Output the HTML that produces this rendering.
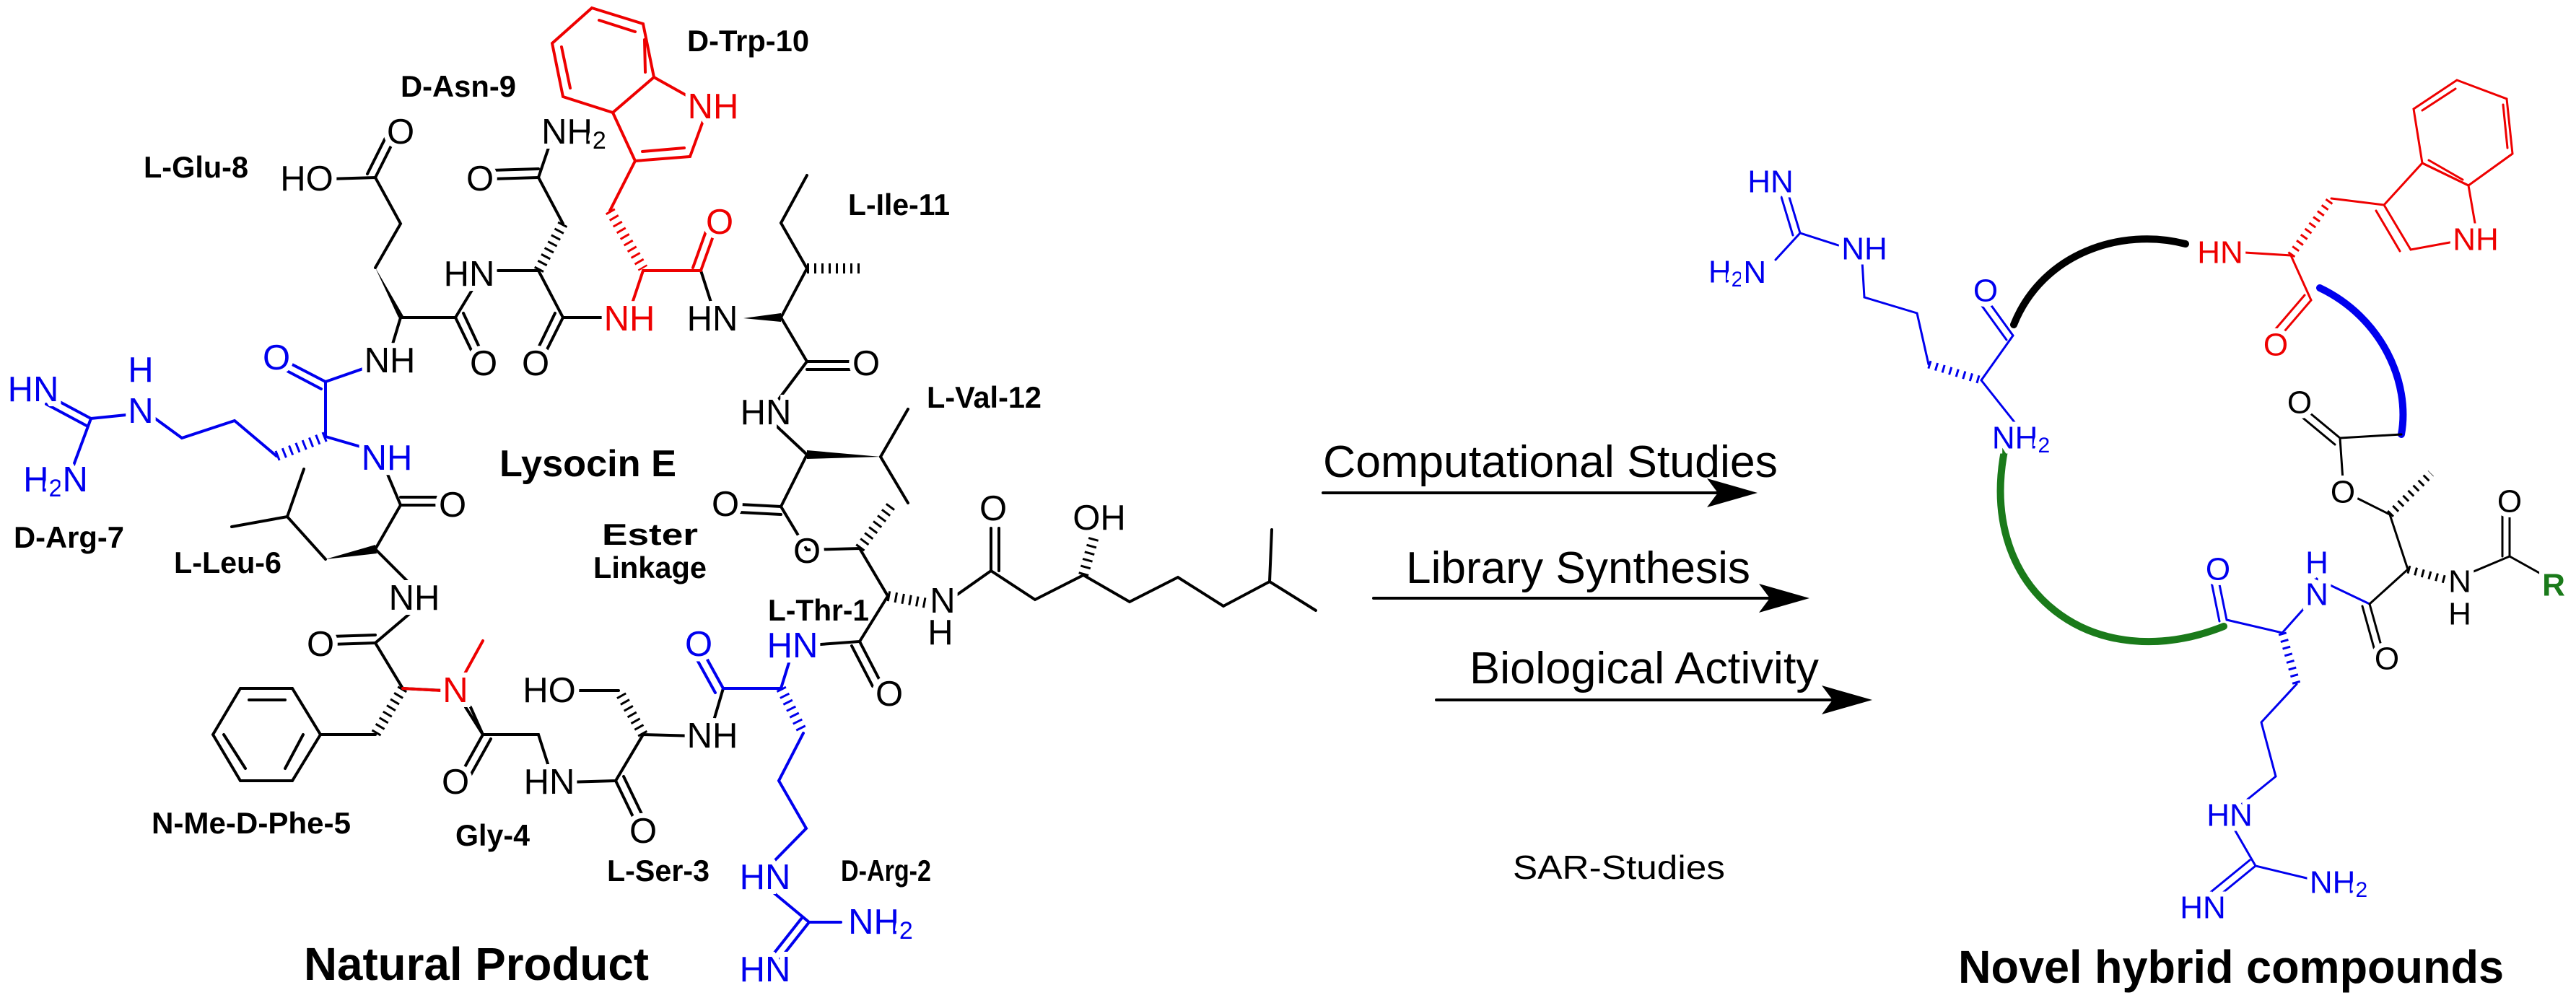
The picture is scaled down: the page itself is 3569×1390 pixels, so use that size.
<!DOCTYPE html>
<html><head><meta charset="utf-8"><style>
html,body{margin:0;padding:0;background:#fff}
svg{display:block}
.b{stroke:#000}.u{stroke:#0000ee}.r{stroke:#ee0000}
line,polyline{stroke-width:4;fill:none;stroke-linecap:round}
path{fill:none;stroke-linecap:round}
.h{stroke-dasharray:3 7;stroke-width:14;stroke-linecap:butt}
.R line,.R polyline{stroke-width:3}
text.a{font-family:"Liberation Sans",sans-serif;font-size:49px;text-anchor:middle;dominant-baseline:central;paint-order:stroke;stroke:#fff;stroke-width:14px}
text.s{font-size:44px}
text.l{font-family:"Liberation Sans",sans-serif;font-weight:bold;font-size:42px}
</style></head><body>
<svg width="3569" height="1390" viewBox="0 0 3569 1390" xmlns="http://www.w3.org/2000/svg">
<g class="b">
<polyline points="780,310 746,246 765,190"/>
<line x1="746" y1="246" x2="680" y2="248"/><line x1="746" y1="234" x2="680" y2="236"/>
<line class="h" x1="780" y1="310" x2="746" y2="375"/>
<polyline points="690,375 746,375 780,440 834,440"/>
<line x1="780" y1="440" x2="750" y2="500"/><line x1="769" y1="434" x2="740" y2="494"/>
<polyline points="654,402 631,440 555,440"/>
<line x1="631" y1="440" x2="660" y2="500"/><line x1="642" y1="434" x2="670" y2="494"/>
<polyline points="520,371 555,310 520,246 455,248"/>
<line x1="520" y1="246" x2="548" y2="190"/><line x1="509" y1="241" x2="537" y2="185"/>
<line x1="555" y1="440" x2="540" y2="490"/>
<line x1="971" y1="375" x2="987" y2="425"/>
<polyline points="1082,440 1118,372 1082,309 1118,243"/>
<line class="h" x1="1118" y1="372" x2="1191" y2="372"/>
<polyline points="1082,440 1118,501 1070,565"/>
<line x1="1118" y1="501" x2="1180" y2="501"/><line x1="1118" y1="512" x2="1180" y2="512"/>
<polyline points="1070,585 1118,630 1082,702 1118,762 1191,760 1230,826 1191,889 1110,895"/>
<line x1="1082" y1="702" x2="1025" y2="699"/><line x1="1082" y1="713" x2="1025" y2="710"/>
<polyline points="1220,633 1258,567"/><polyline points="1220,633 1258,697"/>
<line class="h" x1="1191" y1="760" x2="1236" y2="699"/>
<line x1="1191" y1="889" x2="1220" y2="945"/><line x1="1180" y1="895" x2="1209" y2="951"/>
<line class="h" x1="1230" y1="826" x2="1290" y2="837"/>
<polyline points="1322,827 1373,791 1434,831 1501,797 1565,834 1632,800 1695,840 1759,806 1823,846"/>
<line x1="1759" y1="806" x2="1762" y2="734"/>
<line x1="1373" y1="791" x2="1373" y2="732"/><line x1="1384" y1="791" x2="1384" y2="732"/>
<line class="h" x1="1501" y1="797" x2="1517" y2="740"/>
<polyline points="536,655 555,700 520,761"/>
<line x1="555" y1="700" x2="615" y2="700"/><line x1="555" y1="689" x2="615" y2="689"/>
<polyline points="451,775 398,716 321,730"/><line x1="398" y1="716" x2="421" y2="650"/>
<polyline points="520,761 574,815"/>
<polyline points="574,845 520,891 558,954 615,957"/>
<line x1="520" y1="891" x2="458" y2="893"/><line x1="520" y1="880" x2="458" y2="882"/>
<line class="h" x1="558" y1="954" x2="520" y2="1018"/>
<line x1="520" y1="1018" x2="444" y2="1018"/>
<polygon points="333,954 405,954 444,1018 405,1082 333,1082 295,1018" style="fill:none;stroke-width:4"/>
<line x1="345" y1="970" x2="395" y2="970"/><line x1="420" y1="1018" x2="395" y2="1065"/><line x1="310" y1="1018" x2="340" y2="1065"/>
<polyline points="645,980 669,1018 746,1018 761,1065"/>
<line x1="669" y1="1018" x2="640" y2="1070"/><line x1="680" y1="1024" x2="651" y2="1076"/>
<polyline points="785,1084 853,1082 891,1018 965,1020"/>
<line x1="853" y1="1082" x2="880" y2="1138"/><line x1="864" y1="1076" x2="891" y2="1132"/>
<line class="h" x1="891" y1="1018" x2="857" y2="957"/><line x1="857" y1="957" x2="790" y2="957"/>
<line x1="987" y1="1005" x2="1002" y2="954"/>
</g>
<polygon points="520,371 552,440 560,440" fill="#000"/>
<polygon points="1030,441 1082,434 1082,446" fill="#000"/>
<polygon points="1118,624 1118,636 1220,633" fill="#000"/>
<polygon points="451,775 520,755 522,767" fill="#000"/>
<g class="r">
<polygon points="820,11 891,33 906,107 849,156 780,134 765,60" style="fill:none;stroke-width:4"/>
<line x1="830" y1="28" x2="880" y2="44"/><line x1="893" y1="55" x2="894" y2="100"/><line x1="778" y1="65" x2="790" y2="122"/>
<polyline points="906,107 965,140"/><polyline points="975,165 956,217 880,223 849,156"/>
<line x1="948" y1="205" x2="890" y2="210"/>
<line x1="880" y1="223" x2="845" y2="292"/>
<line class="h" x1="845" y1="292" x2="891" y2="372"/>
<polyline points="876,420 891,375 971,375"/>
<line x1="971" y1="375" x2="990" y2="322"/><line x1="960" y1="371" x2="979" y2="318"/>
<polyline points="631,957 669,888"/>
</g>
<line x1="558" y1="954" x2="612" y2="957" stroke="#e00" stroke-width="4"/>
<line x1="652" y1="980" x2="669" y2="1018" stroke="#000" stroke-width="4"/>
<g class="u">
<polyline points="520,505 451,529 451,605"/>
<line x1="451" y1="529" x2="395" y2="500"/><line x1="445" y1="539" x2="390" y2="510"/>
<line class="h" x1="451" y1="605" x2="383" y2="632"/>
<polyline points="383,632 325,583 252,607 215,580"/>
<polyline points="175,575 126,580 100,650"/>
<line x1="126" y1="580" x2="70" y2="550"/><line x1="120" y1="590" x2="64" y2="560"/>
<line x1="451" y1="605" x2="520" y2="625"/>
<line x1="1002" y1="954" x2="975" y2="905"/><line x1="991" y1="960" x2="964" y2="911"/>
<polyline points="1002,954 1082,954 1095,912"/>
<line class="h" x1="1082" y1="954" x2="1113" y2="1016"/>
<polyline points="1113,1016 1079,1082 1117,1148 1068,1198"/>
<polyline points="1068,1234 1121,1278 1165,1278"/>
<line x1="1121" y1="1278" x2="1080" y2="1330"/><line x1="1111" y1="1272" x2="1070" y2="1324"/>
</g>
<g>
<text class="a" x="988" y="148" fill="#e00">NH</text>
<text class="a" x="997" y="308" fill="#e00">O</text>
<text class="a" x="872" y="442" fill="#e00">NH</text>
<text class="a" x="987" y="442">HN</text>
<text class="a" x="665" y="248">O</text>
<text class="a" x="795" y="183">NH<tspan font-size="34" dy="12">2</tspan></text>
<text class="a" x="650" y="380">HN</text>
<text class="a" x="670" y="504">O</text>
<text class="a" x="742" y="504">O</text>
<text class="a" x="425" y="248">HO</text>
<text class="a" x="555" y="183">O</text>
<text class="a" x="540" y="500">NH</text>
<text class="a" x="1200" y="504">O</text>
<text class="a" x="1061" y="572">HN</text>
<text class="a" x="1005" y="699">O</text>
<text class="a" x="1118" y="764">O</text>
<text class="a" x="1306" y="833">N</text>
<text class="a" x="1303" y="877">H</text>
<text class="a" x="1376" y="705">O</text>
<text class="a" x="1523" y="718">OH</text>
<text class="a" x="1232" y="962">O</text>
<text class="a" x="627" y="700">O</text>
<text class="a" x="574" y="829">NH</text>
<text class="a" x="444" y="893">O</text>
<text class="a" x="631" y="957" fill="#e00">N</text>
<text class="a" x="631" y="1084">O</text>
<text class="a" x="761" y="1084">HN</text>
<text class="a" x="891" y="1152">O</text>
<text class="a" x="761" y="957">HO</text>
<text class="a" x="987" y="1020">NH</text>
<g fill="#0000ee">
<text class="a" x="383" y="496">O</text>
<text class="a" x="195" y="570">N</text>
<text class="a" x="195" y="513">H</text>
<text class="a" x="46" y="540">HN</text>
<text class="a" x="77" y="665">H<tspan font-size="34" dy="12">2</tspan><tspan dy="-12">N</tspan></text>
<text class="a" x="536" y="635">NH</text>
<text class="a" x="968" y="893">O</text>
<text class="a" x="1098" y="895">HN</text>
<text class="a" x="1060" y="1216">HN</text>
<text class="a" x="1220" y="1278">NH<tspan font-size="34" dy="12">2</tspan></text>
<text class="a" x="1060" y="1344">HN</text>
</g>
</g>
<g>
<text class="l" x="952" y="71" textLength="169" lengthAdjust="spacingAndGlyphs">D-Trp-10</text>
<text class="l" x="555" y="134" textLength="160" lengthAdjust="spacingAndGlyphs">D-Asn-9</text>
<text class="l" x="199" y="246" textLength="145" lengthAdjust="spacingAndGlyphs">L-Glu-8</text>
<text class="l" x="1175" y="298" textLength="141" lengthAdjust="spacingAndGlyphs">L-Ile-11</text>
<text class="l" x="1284" y="565" textLength="159" lengthAdjust="spacingAndGlyphs">L-Val-12</text>
<text class="l" x="692" y="660" style="font-size:52px" textLength="245" lengthAdjust="spacingAndGlyphs">Lysocin E</text>
<text class="l" x="19" y="759" textLength="153" lengthAdjust="spacingAndGlyphs">D-Arg-7</text>
<text class="l" x="241" y="794" textLength="149" lengthAdjust="spacingAndGlyphs">L-Leu-6</text>
<text class="l" x="834" y="755" textLength="133" lengthAdjust="spacingAndGlyphs">Ester</text>
<text class="l" x="822" y="801" textLength="157" lengthAdjust="spacingAndGlyphs">Linkage</text>
<text class="l" x="1064" y="860" textLength="140" lengthAdjust="spacingAndGlyphs">L-Thr-1</text>
<text class="l" x="210" y="1155" textLength="276" lengthAdjust="spacingAndGlyphs">N-Me-D-Phe-5</text>
<text class="l" x="631" y="1172" textLength="103" lengthAdjust="spacingAndGlyphs">Gly-4</text>
<text class="l" x="841" y="1221" textLength="142" lengthAdjust="spacingAndGlyphs">L-Ser-3</text>
<text class="l" x="1165" y="1221" textLength="125" lengthAdjust="spacingAndGlyphs">D-Arg-2</text>
<text class="l" x="421" y="1358" style="font-size:64px" textLength="478" lengthAdjust="spacingAndGlyphs">Natural Product</text>
<text class="l" x="2713" y="1362" style="font-size:64px" textLength="756" lengthAdjust="spacingAndGlyphs">Novel hybrid compounds</text>
</g>
<g font-family="Liberation Sans, sans-serif" fill="#000">
<text x="1833" y="661" font-size="62" textLength="630" lengthAdjust="spacingAndGlyphs">Computational Studies</text>
<line x1="1833" y1="683" x2="2400" y2="683" stroke="#000" stroke-width="3"/>
<polygon points="2435,683 2365,663 2380,683 2365,703"/>
<text x="1948" y="808" font-size="62" textLength="477" lengthAdjust="spacingAndGlyphs">Library Synthesis</text>
<line x1="1903" y1="829" x2="2470" y2="829" stroke="#000" stroke-width="3"/>
<polygon points="2507,829 2437,809 2452,829 2437,849"/>
<text x="2036" y="947" font-size="62" textLength="484" lengthAdjust="spacingAndGlyphs">Biological Activity</text>
<line x1="1990" y1="970" x2="2560" y2="970" stroke="#000" stroke-width="3"/>
<polygon points="2594,970 2524,950 2539,970 2524,990"/>
<text x="2096" y="1218" font-size="46" textLength="294" lengthAdjust="spacingAndGlyphs">SAR-Studies</text>
</g>
<g class="R">
<path d="M2790,450 C2830,350 2940,315 3028,338" style="stroke:#000;stroke-width:10"/>
<path d="M3214,399 C3300,440 3340,530 3327,602" style="stroke:#0000ee;stroke-width:10"/>
<path d="M2777,625 C2740,820 2900,940 3081,868" style="stroke:#1a7a1a;stroke-width:10"/>
<g class="u">
<line x1="2494" y1="323" x2="2478" y2="270"/><line x1="2484" y1="326" x2="2468" y2="273"/>
<polyline points="2460,360 2494,323 2547,340"/>
<polyline points="2580,362 2583,412 2656,434 2672,505"/>
<line class="h" x1="2672" y1="505" x2="2745" y2="527" style="stroke-width:11"/>
<polyline points="2795,590 2745,527 2789,465"/>
<line x1="2789" y1="465" x2="2755" y2="418"/><line x1="2780" y1="471" x2="2746" y2="424"/>
<polyline points="3195,795 3283,837"/>
<polyline points="3195,840 3162,877 3085,859"/>
<line x1="3085" y1="859" x2="3074" y2="805"/><line x1="3075" y1="861" x2="3064" y2="807"/>
<line class="h" x1="3162" y1="877" x2="3182" y2="948" style="stroke-width:11"/>
<polyline points="3182,948 3133,1001 3153,1076 3105,1115"/>
<polyline points="3095,1148 3125,1200 3200,1218"/>
<line x1="3125" y1="1200" x2="3070" y2="1245"/><line x1="3117" y1="1192" x2="3062" y2="1237"/>
</g>
<g class="r">
<polyline points="3110,350 3174,354 3202,416"/>
<line x1="3202" y1="416" x2="3160" y2="465"/><line x1="3193" y1="409" x2="3151" y2="458"/>
<line class="h" x1="3174" y1="354" x2="3230" y2="275" style="stroke-width:11"/>
<polyline points="3230,275 3303,284 3340,346 3405,334"/>
<line x1="3292" y1="292" x2="3325" y2="348"/>
<polyline points="3430,315 3420,257 3356,226 3303,284"/>
<polygon points="3356,226 3344,151 3404,111 3473,137 3481,213 3420,257" style="fill:none;stroke-width:3"/>
<line x1="3356" y1="153" x2="3402" y2="123"/><line x1="3468" y1="145" x2="3474" y2="205"/><line x1="3365" y1="222" x2="3412" y2="249"/>
</g>
<g class="b">
<polyline points="3327,602 3242,607 3246,665"/>
<line x1="3242" y1="607" x2="3195" y2="568"/><line x1="3235" y1="616" x2="3188" y2="577"/>
<polyline points="3265,690 3311,713 3336,789 3283,837"/>
<line class="h" x1="3311" y1="713" x2="3368" y2="656" style="stroke-width:11"/>
<line class="h" x1="3336" y1="789" x2="3395" y2="805" style="stroke-width:11"/>
<line x1="3283" y1="837" x2="3300" y2="898"/><line x1="3273" y1="840" x2="3290" y2="901"/>
<polyline points="3420,795 3477,771 3520,795"/>
<line x1="3477" y1="771" x2="3477" y2="710"/><line x1="3467" y1="771" x2="3467" y2="710"/>
</g>
<g fill="#0000ee">
<text class="a s" x="2453" y="252">HN</text>
<text class="a s" x="2407" y="377">H<tspan font-size="30" dy="10">2</tspan><tspan dy="-10">N</tspan></text>
<text class="a s" x="2583" y="345">NH</text>
<text class="a s" x="2751" y="403">O</text>
<text class="a s" x="2800" y="607">NH<tspan font-size="30" dy="10">2</tspan></text>
<text class="a s" x="3073" y="789">O</text>
<text class="a s" x="3210" y="824">N</text>
<text class="a s" x="3210" y="780">H</text>
<text class="a s" x="3089" y="1130">HN</text>
<text class="a s" x="3240" y="1223">NH<tspan font-size="30" dy="10">2</tspan></text>
<text class="a s" x="3052" y="1258">HN</text>
</g>
<g fill="#ee0000">
<text class="a s" x="3076" y="350">HN</text>
<text class="a s" x="3430" y="332">NH</text>
<text class="a s" x="3153" y="478">O</text>
</g>
<text class="a s" x="3186" y="558">O</text>
<text class="a s" x="3246" y="682">O</text>
<text class="a s" x="3408" y="806">N</text>
<text class="a s" x="3408" y="851">H</text>
<text class="a s" x="3477" y="695">O</text>
<text class="a s" x="3307" y="913">O</text>
<text class="a s" x="3538" y="811" fill="#1a7a1a" font-weight="bold">R</text>
</g>
</svg>
</body></html>
